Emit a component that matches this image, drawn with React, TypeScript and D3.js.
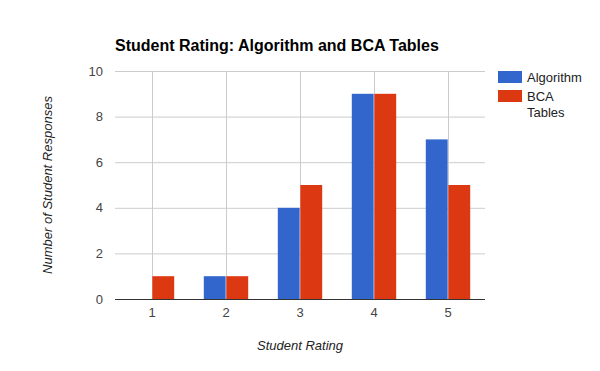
import { useEffect, useRef } from "react";
import * as d3 from "d3";

const categories = ["1", "2", "3", "4", "5"];
const seriesNames = ["Algorithm", "BCA Tables"];
const algorithmValues = [0, 1, 4, 9, 7];
const bcaValues = [1, 1, 5, 9, 5];
const yTicks = [0, 2, 4, 6, 8, 10];
const colors = ["#3366cc", "#dc3912"];

export default function App() {
  const svgRef = useRef<SVGSVGElement | null>(null);

  useEffect(() => {
    if (!svgRef.current) return;
    const svg = d3.select(svgRef.current);
    svg.selectAll("*").remove();

    const width = 600;
    const height = 371;
    const margin = { top: 71, left: 115, right: 115, bottom: 72 };
    const innerW = width - margin.left - margin.right;
    const innerH = height - margin.top - margin.bottom;
    const font = "Arial, 'Liberation Sans', sans-serif";

    svg.attr("width", width).attr("height", height).style("font-family", font);
    svg.append("rect").attr("width", width).attr("height", height).attr("fill", "#fff");

    const x = d3.scaleBand().domain(categories).range([0, innerW]).paddingInner(0).paddingOuter(0);
    const y = d3.scaleLinear().domain([0, 10]).range([innerH, 0]);
    const groupW = x.bandwidth() * 0.6;
    const xInner = d3.scaleBand().domain(seriesNames).range([-groupW / 2, groupW / 2]).paddingInner(0.03);

    const g = svg.append("g").attr("transform", `translate(${margin.left},${margin.top})`);

    // horizontal gridlines
    g.selectAll("line.hgrid")
      .data(yTicks.filter((t) => t > 0))
      .join("line")
      .attr("x1", 0)
      .attr("x2", innerW)
      .attr("y1", (d) => y(d) + 0.5)
      .attr("y2", (d) => y(d) + 0.5)
      .attr("stroke", "#cccccc");

    // vertical gridlines at category centers
    g.selectAll("line.vgrid")
      .data(categories)
      .join("line")
      .attr("x1", (d) => x(d)! + x.bandwidth() / 2 + 0.5)
      .attr("x2", (d) => x(d)! + x.bandwidth() / 2 + 0.5)
      .attr("y1", 0)
      .attr("y2", innerH)
      .attr("stroke", "#cccccc");

    const rows = categories.map((c, i) => ({
      cat: c,
      values: [algorithmValues[i], bcaValues[i]],
    }));

    g.selectAll("g.grp")
      .data(rows)
      .join("g")
      .attr("transform", (d) => `translate(${x(d.cat)! + x.bandwidth() / 2},0)`)
      .selectAll("rect")
      .data((d) => d.values.map((v, i) => ({ v, name: seriesNames[i], i })))
      .join("rect")
      .attr("x", (d) => xInner(d.name)!)
      .attr("width", xInner.bandwidth())
      .attr("y", (d) => y(d.v))
      .attr("height", (d) => innerH - y(d.v))
      .attr("fill", (d) => colors[d.i]);

    // baseline
    g.append("line")
      .attr("x1", 0)
      .attr("x2", innerW)
      .attr("y1", innerH + 0.5)
      .attr("y2", innerH + 0.5)
      .attr("stroke", "#333333");

    // y tick labels
    g.selectAll("text.ytick")
      .data(yTicks)
      .join("text")
      .attr("x", -12)
      .attr("y", (d) => y(d) + 4.5)
      .attr("text-anchor", "end")
      .attr("font-size", 13)
      .attr("fill", "#444444")
      .text((d) => d);

    // x tick labels
    g.selectAll("text.xtick")
      .data(categories)
      .join("text")
      .attr("x", (d) => x(d)! + x.bandwidth() / 2)
      .attr("y", innerH + 18)
      .attr("text-anchor", "middle")
      .attr("font-size", 13)
      .attr("fill", "#444444")
      .text((d) => d);

    // title
    svg.append("text")
      .attr("x", 115)
      .attr("y", 51)
      .attr("font-size", 16)
      .attr("font-weight", "bold")
      .attr("fill", "#000")
      .text("Student Rating: Algorithm and BCA Tables");

    // axis titles
    svg.append("text")
      .attr("x", margin.left + innerW / 2)
      .attr("y", 350)
      .attr("text-anchor", "middle")
      .attr("font-size", 13)
      .attr("font-style", "italic")
      .attr("fill", "#222222")
      .text("Student Rating");

    svg.append("text")
      .attr("transform", `translate(52,${margin.top + innerH / 2}) rotate(-90)`)
      .attr("text-anchor", "middle")
      .attr("font-size", 13)
      .attr("font-style", "italic")
      .attr("fill", "#222222")
      .text("Number of Student Responses");

    // legend
    const legend = svg.append("g").attr("transform", "translate(498,71)");
    legend.append("rect").attr("x", 0).attr("y", 0).attr("width", 24).attr("height", 12).attr("fill", colors[0]);
    legend.append("text").attr("x", 29).attr("y", 11).attr("font-size", 13).attr("fill", "#222222").text("Algorithm");
    legend.append("rect").attr("x", 0).attr("y", 19).attr("width", 24).attr("height", 12).attr("fill", colors[1]);
    legend.append("text").attr("x", 29).attr("y", 30).attr("font-size", 13).attr("fill", "#222222").text("BCA");
    legend.append("text").attr("x", 29).attr("y", 46).attr("font-size", 13).attr("fill", "#222222").text("Tables");
  }, []);

  return (
    <div style={{ position: "absolute", left: 0, top: 0 }}>
      <svg ref={svgRef} style={{ display: "block" }} />
    </div>
  );
}
